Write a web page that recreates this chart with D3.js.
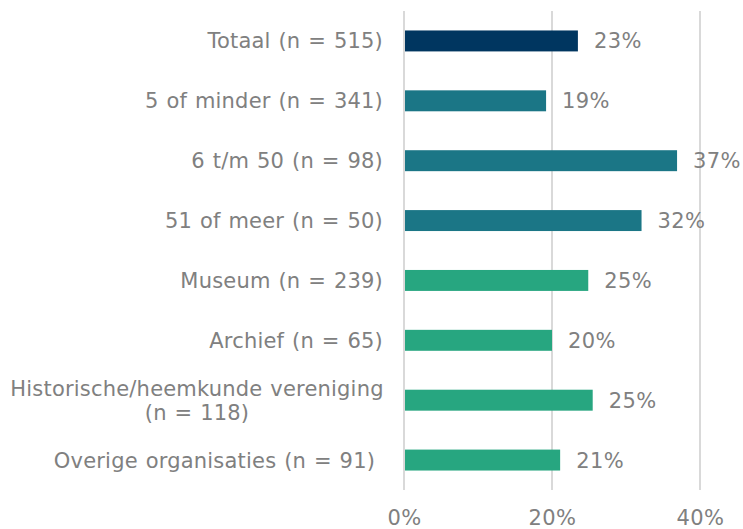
<!DOCTYPE html>
<html>
<head>
<meta charset="utf-8">
<script src="https://cdn.jsdelivr.net/npm/d3@7"></script>
<style>
  body { margin: 0; background: #fff; }
  text { font-family: "DejaVu Sans", Verdana, sans-serif; fill: #808080; }
</style>
</head>
<body>
<div id="chart"></div>
<script>
var categories = [
    ["Totaal (n = 515)"],
    ["5 of minder (n = 341)"],
    ["6 t/m 50 (n = 98)"],
    ["51 of meer (n = 50)"],
    ["Museum (n = 239)"],
    ["Archief (n = 65)"],
    ["Historische/heemkunde vereniging", "(n = 118)"],
    ["Overige organisaties (n = 91) "]
];
var values = [23.5, 19.2, 36.9, 32.1, 24.9, 20.0, 25.5, 21.1];
var labels = ["23%", "19%", "37%", "32%", "25%", "20%", "25%", "21%"];
var groups = ["totaal", "grootte", "grootte", "grootte", "type", "type", "type", "type"];
var ticks = [0, 20, 40];

var colors = { totaal: "#003660", grootte: "#1b7686", type: "#27a680" };

var margin = {top: 11, right: 43, bottom: 39, left: 404},
    width = 743 - margin.left - margin.right,
    height = 529 - margin.top - margin.bottom;

var svg = d3.select("#chart").append("svg")
    .attr("width", 743)
    .attr("height", 529)
  .append("g")
    .attr("transform", "translate(" + margin.left + "," + margin.top + ")");

var x = d3.scaleLinear().domain([0, 40]).range([0, 296]);
var y = d3.scaleBand().domain(d3.range(categories.length)).range([0, height]).paddingInner(0.65).paddingOuter(0.325);

// gridlines
svg.selectAll(".grid")
    .data(ticks)
  .enter().append("line")
    .attr("x1", function(d) { return x(d); })
    .attr("x2", function(d) { return x(d); })
    .attr("y1", 0)
    .attr("y2", height)
    .style("stroke", "#d9d9d9")
    .style("stroke-width", 2);

// bars
svg.selectAll(".bar")
    .data(values)
  .enter().append("rect")
    .attr("x", x(0) + 1)
    .attr("y", function(d, i) { return y(i); })
    .attr("width", function(d) { return x(d) - 1; })
    .attr("height", y.bandwidth())
    .style("fill", function(d, i) { return colors[groups[i]]; });

// value labels
svg.selectAll(".val")
    .data(values)
  .enter().append("text")
    .attr("x", function(d) { return x(d) + 16; })
    .attr("y", function(d, i) { return y(i) + y.bandwidth() / 2; })
    .attr("dy", "0.36em")
    .style("font-size", "21px")
    .style("letter-spacing", "0.4px")
    .text(function(d, i) { return labels[i]; });

// category labels
var cat = svg.selectAll(".cat")
    .data(categories)
  .enter().append("text")
    .attr("y", function(d, i) { return y(i) + y.bandwidth() / 2; })
    .style("font-size", "21px")
    .style("letter-spacing", "0.2px")
    .style("word-spacing", "1px")
    .style("white-space", "pre");

cat.each(function(d) {
    var t = d3.select(this);
    if (d.length === 1) {
        t.append("tspan").attr("x", -21).attr("text-anchor", "end").attr("dy", "0.36em").text(d[0]);
    } else {
        t.attr("text-anchor", "middle");
        t.append("tspan").attr("x", -207).attr("dy", "-0.22em").text(d[0]);
        t.append("tspan").attr("x", -207).attr("dy", "1.15em").text(d[1]);
    }
});

// x axis
svg.append("g")
    .attr("transform", "translate(0," + height + ")")
    .call(d3.axisBottom(x).tickValues(ticks).tickFormat(function(d) { return d + "%"; }).tickSize(0).tickPadding(20))
    .call(function(g) { g.select(".domain").remove(); })
    .selectAll("text")
    .style("font-size", "21px")
    .style("letter-spacing", "0.4px")
    .style("fill", "#808080");
</script>
</body>
</html>
